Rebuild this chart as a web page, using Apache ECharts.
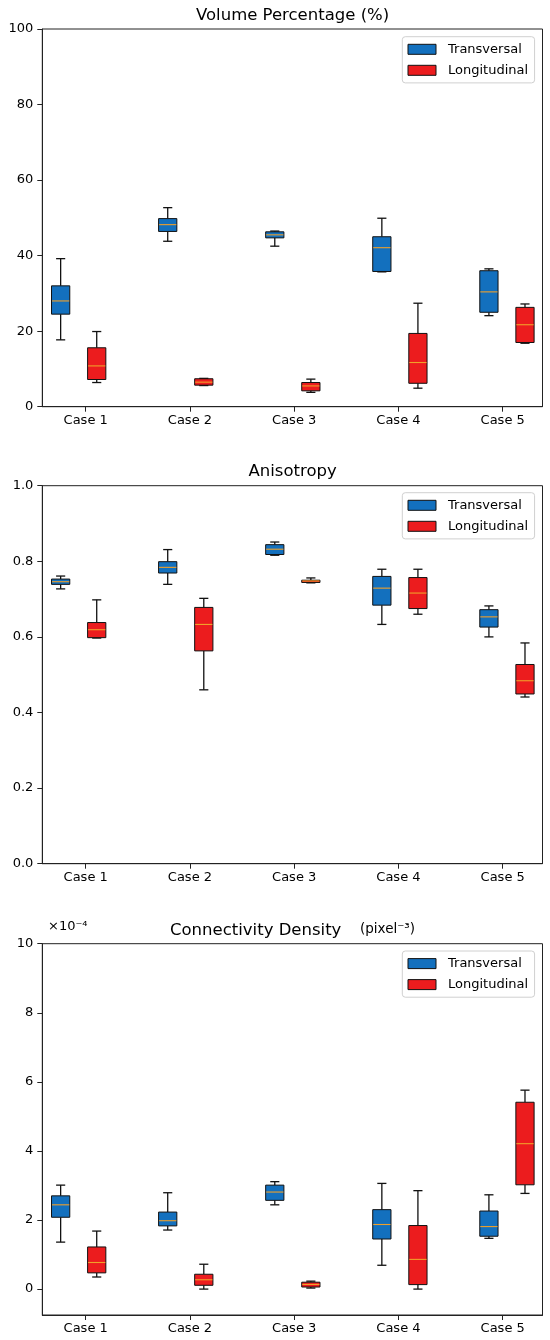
<!DOCTYPE html>
<html>
<head>
<meta charset="utf-8">
<script src="https://cdn.jsdelivr.net/npm/echarts@6/dist/echarts.min.js"></script>
<style>
  html, body { margin: 0; padding: 0; background: #fff; }
  #chart { width: 550px; height: 1340px; }
</style>
</head>
<body>
<div id="chart"></div>
<script>
// categories
var cases = ['Case 1', 'Case 2', 'Case 3', 'Case 4', 'Case 5'];
var seriesNames = ['Transversal', 'Longitudinal'];

// box stats per case: [min, q1, median, q3, max]
var volTrans = [[17.7, 24.5, 28.0, 32.0, 39.2], [43.8, 46.4, 48.2, 49.8, 52.7], [42.5, 44.7, 45.5, 46.3, 46.5], [35.7, 35.8, 42.1, 45.0, 49.9], [24.1, 25.0, 30.4, 36.0, 36.5]];
var volLong = [[6.4, 7.2, 10.8, 15.6, 19.9], [5.6, 5.7, 6.5, 7.4, 7.5], [3.8, 4.2, 5.5, 6.4, 7.3], [4.9, 6.2, 11.7, 19.4, 27.4], [16.8, 17.0, 21.7, 26.3, 27.2]];

var anisoTrans = [[0.727, 0.739, 0.746, 0.753, 0.761], [0.739, 0.769, 0.784, 0.799, 0.831], [0.816, 0.818, 0.832, 0.844, 0.851], [0.633, 0.684, 0.729, 0.760, 0.779], [0.600, 0.626, 0.653, 0.672, 0.682]];
var anisoLong = [[0.597, 0.598, 0.619, 0.638, 0.698], [0.460, 0.563, 0.633, 0.678, 0.702], [0.743, 0.744, 0.748, 0.750, 0.756], [0.660, 0.675, 0.716, 0.757, 0.779], [0.441, 0.449, 0.484, 0.527, 0.584]];

// connectivity density, in units of 1e-4 pixel^-3
var connTrans = [[1.36, 2.08, 2.44, 2.70, 3.01], [1.71, 1.83, 1.98, 2.23, 2.79], [2.44, 2.57, 2.81, 3.01, 3.11], [0.69, 1.45, 1.87, 2.30, 3.06], [1.47, 1.53, 1.81, 2.26, 2.73]];
var connLong = [[0.35, 0.47, 0.77, 1.22, 1.68], [0.0, 0.11, 0.27, 0.43, 0.72], [0.03, 0.06, 0.135, 0.20, 0.23], [0.0, 0.13, 0.86, 1.84, 2.85], [2.77, 3.02, 4.21, 5.41, 5.76]];

// tick values
var caseTicks = [1, 2, 3, 4, 5];
var connTicks = [0, 2, 4, 6, 8, 10];

var FONT = 'DejaVu Sans';
var BLUE = '#1370be';
var RED = '#ec1c1e';
var MEDIAN = '#f0a02a';
// box layout in x-axis units
var PAIR_STEP = 1.027, BLUE_X0 = 0.76, RED_SHIFT = 0.346, BOX_W = 0.175;

var panels = [
  { title: 'Volume Percentage (%)', top: 29, height: 377.7, titleY: 16, min: 0, max: 100, interval: 20, trans: volTrans, long: volLong, legendTop: 36.7 },
  { title: 'Anisotropy', top: 485.7, height: 378, titleY: 472, min: 0, max: 1, interval: 0.2, trans: anisoTrans, long: anisoLong, legendTop: 492.7, fmt: function (v) { return v.toFixed(1); } },
  { title: 'Connectivity Density', top: 943.7, height: 371.3, titleY: 930.7, min: -0.75, max: 10, ticks: connTicks, trans: connTrans, long: connLong, legendTop: 951 }
];

function toItems(stats, shift) {
  return stats.map(function (s, i) {
    return [BLUE_X0 + i * PAIR_STEP + shift].concat(s);
  });
}

function renderBox(params, api) {
  var x = api.value(0);
  var pMin = api.coord([x, api.value(1)]);
  var pQ1 = api.coord([x, api.value(2)]);
  var pMed = api.coord([x, api.value(3)]);
  var pQ3 = api.coord([x, api.value(4)]);
  var pMax = api.coord([x, api.value(5)]);
  var w = api.size([BOX_W, 0])[0];
  var cx = pMin[0];
  var cap = w / 4;
  var lineStyle = { stroke: '#111', lineWidth: 1.3 };
  return {
    type: 'group',
    children: [
      { type: 'line', shape: { x1: cx, y1: pMin[1], x2: cx, y2: pQ1[1] }, style: lineStyle },
      { type: 'line', shape: { x1: cx, y1: pQ3[1], x2: cx, y2: pMax[1] }, style: lineStyle },
      { type: 'line', shape: { x1: cx - cap, y1: pMin[1], x2: cx + cap, y2: pMin[1] }, style: lineStyle },
      { type: 'line', shape: { x1: cx - cap, y1: pMax[1], x2: cx + cap, y2: pMax[1] }, style: lineStyle },
      { type: 'rect', shape: { x: cx - w / 2, y: pQ3[1], width: w, height: pQ1[1] - pQ3[1] },
        style: { fill: api.visual('color'), stroke: '#111', lineWidth: 1 } },
      { type: 'line', shape: { x1: cx - w / 2 + 0.5, y1: pMed[1], x2: cx + w / 2 - 0.5, y2: pMed[1] },
        style: { stroke: MEDIAN, lineWidth: 1.1 } }
    ]
  };
}

var option = {
  animation: false,
  backgroundColor: '#fff',
  grid: [], xAxis: [], yAxis: [], series: [], legend: [],
  graphic: []
};

panels.forEach(function (p, k) {
  option.grid.push({ left: 42.3, right: 7.5, top: p.top, height: p.height, show: true, borderColor: '#222', borderWidth: 1, containLabel: false });
  option.xAxis.push({
    type: 'value', gridIndex: k, min: 0.584, max: 5.382,
    axisLine: { show: true, onZero: false, lineStyle: { color: '#222', width: 1 } },
    axisTick: { show: true, length: 5, customValues: caseTicks, lineStyle: { color: '#222' } },
    axisLabel: { customValues: caseTicks, color: '#000', fontSize: 13, fontFamily: FONT, margin: 7,
      formatter: function (v) { return cases[Math.round(v) - 1]; } },
    splitLine: { show: false }
  });
  var yLabel = { color: '#000', fontSize: 13, fontFamily: FONT, margin: 9 };
  var yTick = { show: true, length: 5, lineStyle: { color: '#222' } };
  if (p.ticks) {
    yLabel.customValues = p.ticks;
    yTick.customValues = p.ticks;
  }
  if (p.fmt) yLabel.formatter = p.fmt;
  option.yAxis.push({
    type: 'value', gridIndex: k, min: p.min, max: p.max, interval: p.interval,
    axisLine: { show: true, onZero: false, lineStyle: { color: '#222', width: 1 } },
    axisTick: yTick, axisLabel: yLabel, splitLine: { show: false }
  });
  [[p.trans, 0, BLUE], [p.long, RED_SHIFT, RED]].forEach(function (s, j) {
    option.series.push({
      type: 'custom', name: seriesNames[j], xAxisIndex: k, yAxisIndex: k,
      itemStyle: { color: s[2], borderColor: '#111', borderWidth: 1 },
      encode: { x: 0, y: [1, 2, 3, 4, 5] },
      renderItem: renderBox,
      data: toItems(s[0], s[1])
    });
  });
  option.legend.push({
    data: seriesNames, orient: 'vertical', left: 402.3, top: p.legendTop,
    icon: 'rect', itemWidth: 28, itemHeight: 10, itemGap: 7,
    itemStyle: { borderColor: '#111', borderWidth: 1 },
    padding: [5.6, 6.5, 5.6, 5.2],
    backgroundColor: '#fff', borderColor: '#d0d0d0', borderWidth: 1, borderRadius: 3,
    selectedMode: false,
    textStyle: { color: '#000', fontSize: 13, fontFamily: FONT, lineHeight: 14, padding: [0, 0, 0, 7] }
  });
  if (k < 2) {
    option.graphic.push({ type: 'text', x: 292.6, y: p.titleY,
      style: { text: p.title, fill: '#000', font: '16.5px "DejaVu Sans"', align: 'center', verticalAlign: 'middle' } });
  }
});

// connectivity title with unit and axis multiplier
option.graphic.push({ type: 'text', x: 170, y: 930.7,
  style: { text: 'Connectivity Density', fill: '#000', font: '16.5px "DejaVu Sans"', align: 'left', verticalAlign: 'middle' } });
option.graphic.push({ type: 'text', x: 360, y: 929,
  style: { text: '(pixel⁻³)', fill: '#000', font: '13.5px "DejaVu Sans"', align: 'left', verticalAlign: 'middle' } });
option.graphic.push({ type: 'text', x: 48, y: 927,
  style: { text: '×10⁻⁴', fill: '#000', font: '13px "DejaVu Sans"', align: 'left', verticalAlign: 'middle' } });

var chart = echarts.init(document.getElementById('chart'));
chart.setOption(option);
</script>
</body>
</html>
